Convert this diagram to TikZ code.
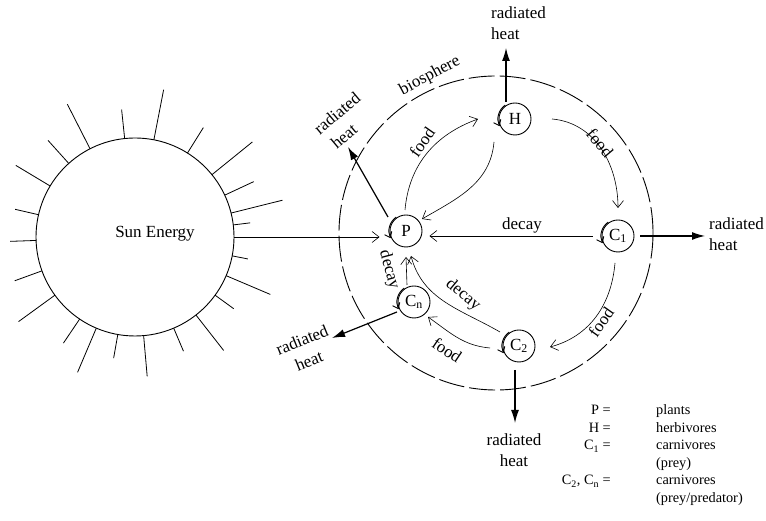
\documentclass[tikz,border=0pt]{standalone}
\usepackage{fontspec}
\setmainfont{Liberation Serif}
\usetikzlibrary{arrows.meta,calc}
\begin{document}
\begin{tikzpicture}[x=1pt,y=1pt,
  lbl/.style={font=\fontsize{17}{21}\selectfont, inner sep=0pt, align=center},
  lbll/.style={font=\fontsize{17}{21}\selectfont, inner sep=0pt, align=left},
  leg/.style={font=\fontsize{14.3}{17}\selectfont, inner sep=0pt},
  org/.style={circle, draw, line width=0.9pt, minimum size=32pt, inner sep=0pt, font=\fontsize{17}{20}\selectfont},
  flow/.style={line width=0.6pt, -{Straight Barb[length=7pt,width=11pt]}},
  heat/.style={line width=1.2pt, -{Latex[length=13pt,width=8pt]}},
  ray/.style={line width=0.8pt},
  cyclemark/.style={line width=0.9pt, -{Straight Barb[length=5pt,width=8pt]}}]
\useasboundingbox (0,0) rectangle (766,521);
% sun
\node[circle, draw, line width=0.9pt, minimum size=198pt, inner sep=0pt] (sun) at (135,284) {};
\node[lbl] (sunlbl) at (155,287) {Sun Energy};
\foreach \a/\d in {117/149,96/128,79/150,58/129,39/151,25/131,14/152,7/116,-11/115,-23/147,-36/122,-52/144,-67/124,-85/140,-100/123,-113/147,-124/128,-144/144,-160/128,-178/125,167/123,149/139,132/130}
  \draw[ray] ($(sun.center)+(\a:99)$) -- ($(sun.center)+(\a:\d)$);
% biosphere
\node[circle, draw, line width=0.9pt, dash pattern=on 26pt off 5pt, minimum size=314pt, inner sep=0pt] (bio) at (496,288) {};
\node[lbl, rotate=28] (biolbl) at (430,445) {biosphere};
% organisms
\node[org] (P) at (406,290) {P};
\node[org] (H) at (515,402) {H};
\node[org] (C1) at (618,285) {C\textsubscript{1}};
\node[org] (C2) at (519,175) {C\textsubscript{2}};
\node[org] (Cn) at (414,219) {C\textsubscript{n}};
\foreach \n in {P,H,C1,C2,Cn}
  \draw[cyclemark] ($(\n)+(125:17)$) arc (125:205:17);
% sun energy input
\draw[flow, shorten >=10pt] (sun.east) -- (sun.east -| P.west);
% decay C1 -> P
\draw[flow, shorten <=9pt, shorten >=7pt] (C1.west) -- (C1.west -| P.east);
\node[lbl] (dC1) at (522,296) {decay};
% food P -> H
\draw[flow] ($(P)+(-1,21)$) to[out=85,in=200] ($(H)+(-37,0)$);
\node[lbl, rotate=55] (fPH) at (422,379) {food};
% H -> P
\draw[flow] ($(H)+(-21,-23)$) to[out=-95,in=30] ($(P)+(16,12)$);
% food H -> C1
\draw[flow] ($(H)+(37,0)$) to[out=-5,in=90] ($(C1)+(0,28)$);
\node[lbl, rotate=-50] (fHC) at (600,378) {food};
% food C1 -> C2
\draw[flow] ($(C1)+(-3,-27)$) to[out=-95,in=15] ($(C2)+(31,-1)$);
\node[lbl, rotate=55] (fCC) at (601,199) {food};
% food C2 -> Cn
\draw[flow] ($(C2)+(-29,-2)$) to[out=175,in=-35] ($(Cn)+(14,-15)$);
\node[lbl, rotate=-34] (fCn) at (447,171) {food};
% decay C2 -> P
\draw[flow] ($(C2)+(-19,14)$) to[out=150,in=-75] ($(P)+(5,-25)$);
\node[lbl, rotate=-40] (dC2) at (463,226) {decay};
% decay Cn -> P
\draw[flow] ($(Cn)+(-7,17)$) -- ($(P)+(0,-26)$);
\node[lbl, rotate=-75] (dCn) at (389,251) {decay};
% radiated heat
\node[lbl, rotate=40] (rhPa) at (337,408) {radiated};
\node[lbl, rotate=40] (rhPb) at (344,385) {heat};
\coordinate (ePend) at (348,374);
\draw[heat] ($(P)+(-18,14)$) -- (ePend);
\node[lbll, anchor=west] (rhH) at (491,498) {radiated\\heat};
\coordinate (eHend) at (506,473);
\draw[heat] ($(H)+(-9,17)$) -- (eHend);
\node[lbll, anchor=west] (rhC1) at (709,287) {radiated\\heat};
\coordinate (eC1end) at (705,285);
\draw[heat] ($(C1)+(22,0)$) -- (eC1end);
\node[lbl] (rhC2) at (514,71) {radiated\\heat};
\coordinate (eC2end) at (515,98);
\draw[heat] ($(C2)+(-4,-24)$) -- (eC2end);
\node[lbl, rotate=22] (rhCna) at (302,181) {radiated};
\node[lbl, rotate=22] (rhCnb) at (309,160) {heat};
\coordinate (eCnend) at (332,183);
\draw[heat] ($(Cn)+(-17,-10)$) -- (eCnend);
% legend
\node[leg, anchor=base east] (k1) at (611,106) {P =};
\node[leg, anchor=base east] (k2) at (611,88.5) {H =};
\node[leg, anchor=base east] (k3) at (611,71) {C\textsubscript{1} =};
\node[leg, anchor=base east] (k5) at (611,36) {C\textsubscript{2}, C\textsubscript{n} =};
\node[leg, anchor=base west] (v1) at (656,106) {plants};
\node[leg, anchor=base west] (v2) at (656,88.5) {herbivores};
\node[leg, anchor=base west] (v3) at (656,71) {carnivores};
\node[leg, anchor=base west] (v4) at (656,53.5) {(prey)};
\node[leg, anchor=base west] (v5) at (656,36) {carnivores};
\node[leg, anchor=base west] (v6) at (656,18.5) {(prey/predator)};
\end{tikzpicture}
\end{document}
